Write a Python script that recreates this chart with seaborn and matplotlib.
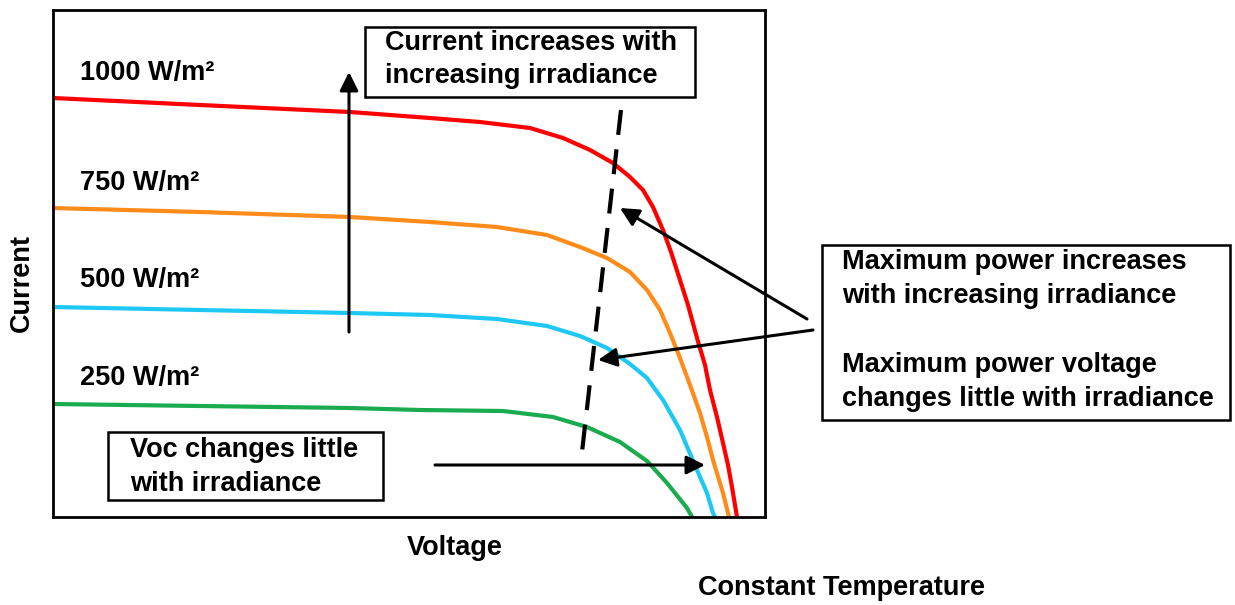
import pandas as pd
import seaborn as sns
import matplotlib.pyplot as plt
from matplotlib.patches import Rectangle

# I-V curves (arbitrary units, voltage 0..712, current 0..507)
v_1000 = [0, 147, 297, 377, 427, 477, 510, 537, 560, 577, 590, 600, 610, 618, 627, 635, 644, 652,
          657, 664, 670, 675, 679, 682, 684]
i_1000 = [419, 412, 405, 399, 395, 389, 379, 367, 354, 340, 327, 310, 287, 265, 237, 212, 179, 152,
          127, 100, 74, 52, 30, 12, 0]
v_750 = [0, 147, 297, 377, 444, 494, 527, 554, 577, 594, 607, 617, 627, 637, 647, 654, 660, 670, 675, 676]
i_750 = [309, 305, 300, 295, 290, 282, 270, 259, 245, 227, 207, 184, 159, 132, 104, 80, 57, 24, 4, 0]
v_500 = [0, 147, 297, 377, 444, 494, 527, 554, 577, 594, 610, 627, 644, 654, 660, 662]
i_500 = [210, 207, 204, 202, 198, 191, 181, 169, 153, 139, 117, 87, 47, 24, 4, 0]
v_250 = [0, 147, 297, 367, 450, 500, 534, 567, 594, 614, 634, 639]
i_250 = [113, 111, 109, 107, 106, 100, 90, 75, 56, 34, 9, 0]

labels = ["1000 W/m²", "750 W/m²", "500 W/m²", "250 W/m²"]
colors = ["#ff0000", "#ff8c1a", "#1ec8f5", "#1aab4f"]

frames = []
for lab, v, i in zip(labels, [v_1000, v_750, v_500, v_250], [i_1000, i_750, i_500, i_250]):
    frames.append(pd.DataFrame({"Voltage": v, "Current": i, "Irradiance": lab}))
data = pd.concat(frames, ignore_index=True)

sns.set_style("white")
plt.rcParams['font.family'] = ['Liberation Sans', 'DejaVu Sans']
plt.rcParams['font.weight'] = 'bold'
plt.rcParams['text.color'] = 'black'
FS = 19.5

W, H = 1235, 605
fig = plt.figure(figsize=(W / 100, H / 100), dpi=100)
ax = fig.add_axes([53 / W, 1 - 517 / H, 712 / W, 507 / H])

sns.lineplot(data=data, x="Voltage", y="Current", hue="Irradiance", palette=colors,
             sort=False, estimator=None, linewidth=3, legend=False, ax=ax)
for ln in ax.lines:
    ln.set_solid_joinstyle('round')

ax.set_xlim(0, 712)
ax.set_ylim(0, 507)
ax.set_xticks([])
ax.set_yticks([])
ax.set_xlabel("")
ax.set_ylabel("")
for s in ax.spines.values():
    s.set_linewidth(2)
    s.set_color("black")

# irradiance labels
for lab, y in zip(labels, [444, 334, 237, 139]):
    ax.text(27, y, lab, fontsize=FS, fontweight='bold', va='center', ha='left')

# max power locus (dashed)
ax.plot([568, 529], [407, 65], color="black", lw=3, ls=(0, (6, 3.5)))

arrow = dict(arrowstyle='-|>', mutation_scale=28, lw=2.2, color='black', shrinkA=0, shrinkB=0)
ax.annotate("", xy=(296, 445), xytext=(296, 185), arrowprops=arrow)
ax.annotate("", xy=(652, 52), xytext=(382, 52), arrowprops=arrow)
ax.annotate("", xy=(567, 309), xytext=(754, 198), arrowprops=arrow, annotation_clip=False)
ax.annotate("", xy=(545, 157), xytext=(760, 187), arrowprops=arrow, annotation_clip=False)


def box(x0, y0, x1, y1, lines, tx, ty, dy):
    fig.patches.append(Rectangle((x0 / W, 1 - y1 / H), (x1 - x0) / W, (y1 - y0) / H,
                                 transform=fig.transFigure, fill=True, facecolor='white',
                                 edgecolor='black', lw=1.8, zorder=5))
    for k, line in enumerate(lines):
        fig.text(tx / W, 1 - (ty + k * dy) / H, line, fontsize=FS, fontweight='bold',
                 va='center', ha='left', zorder=6)


box(365, 27, 695, 97, ["Current increases with", "increasing irradiance"], 385, 43, 33)
box(822, 245, 1230, 420, ["Maximum power increases", "with increasing irradiance", "",
                          "Maximum power voltage", "changes little with irradiance"], 842, 262, 34.2)
box(108, 432, 383, 500, ["Voc changes little", "with irradiance"], 130, 450, 34)

fig.text(455 / W, 1 - 548 / H, "Voltage", fontsize=FS, fontweight='bold', ha='center', va='center')
fig.text(22 / W, 1 - 283 / H, "Current", fontsize=FS, fontweight='bold', ha='center', va='center',
         rotation=90)
fig.text(841 / W, 1 - 588 / H, "Constant Temperature", fontsize=FS, fontweight='bold',
         ha='center', va='center')

fig.savefig("out.png", dpi=100, facecolor='white')
